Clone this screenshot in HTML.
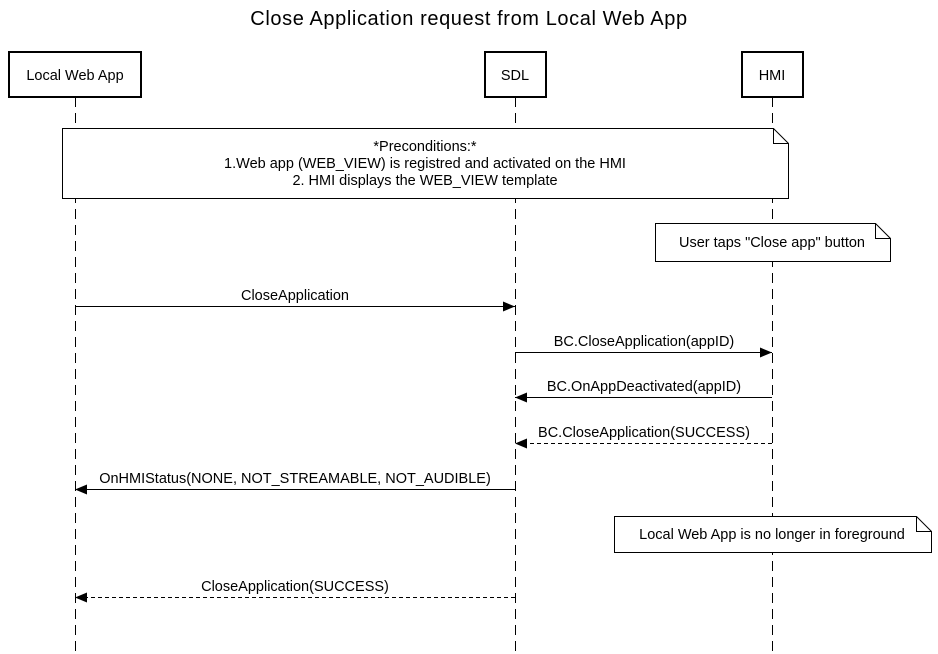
<!DOCTYPE html>
<html><head><meta charset="utf-8"><style>
html,body{margin:0;padding:0;background:#fff;}
svg{display:block;font-family:"Liberation Sans",Arial,sans-serif;}
</style></head><body>
<svg width="938" height="654" viewBox="0 0 938 654" xmlns="http://www.w3.org/2000/svg">
<defs>
<marker id="a" markerWidth="12" markerHeight="10" refX="12" refY="5" orient="auto" markerUnits="userSpaceOnUse">
<path d="M0,0 L12,5 L0,10 Z" fill="#000"/></marker>
</defs>
<text x="469" y="25" font-size="20" letter-spacing="0.6" text-anchor="middle" fill="#000">Close Application request from Local Web App</text>
<g stroke="#000" stroke-width="1" stroke-dasharray="10,6">
<line x1="75.5" y1="97" x2="75.5" y2="654"/>
<line x1="515.5" y1="97" x2="515.5" y2="654"/>
<line x1="772.5" y1="97" x2="772.5" y2="654"/>
</g>
<g fill="#fff" stroke="#000" stroke-width="2">
<rect x="9" y="52" width="132" height="45"/>
<rect x="485" y="52" width="61" height="45"/>
<rect x="742" y="52" width="61" height="45"/>
</g>
<g font-size="14.5" text-anchor="middle" fill="#000">
<text x="75" y="80">Local Web App</text>
<text x="515" y="80">SDL</text>
<text x="772" y="80">HMI</text>
</g>
<g fill="#fff" stroke="#000" stroke-width="1">
<path d="M62.5,128.5 H773.5 L788.5,143.5 V198.5 H62.5 Z"/>
<path d="M773.5,128.5 V143.5 H788.5" fill="none"/>
<path d="M655.5,223.5 H875.5 L890.5,238.5 V261.5 H655.5 Z"/>
<path d="M875.5,223.5 V238.5 H890.5" fill="none"/>
<path d="M614.5,516.5 H916.5 L931.5,531.5 V552.5 H614.5 Z"/>
<path d="M916.5,516.5 V531.5 H931.5" fill="none"/>
</g>
<g font-size="14.5" text-anchor="middle" fill="#000">
<text x="425" y="151">*Preconditions:*</text>
<text x="425" y="168">1.Web app (WEB_VIEW) is registred and activated on the HMI</text>
<text x="425" y="185">2. HMI displays the WEB_VIEW template</text>
<text x="772" y="247">User taps "Close app" button</text>
<text x="772" y="539">Local Web App is no longer in foreground</text>
</g>
<g stroke="#000" stroke-width="1" fill="none">
<line x1="75" y1="306.5" x2="515" y2="306.5" marker-end="url(#a)"/>
<line x1="515" y1="352.5" x2="772" y2="352.5" marker-end="url(#a)"/>
<line x1="772" y1="397.5" x2="515" y2="397.5" marker-end="url(#a)"/>
<line x1="772" y1="443.5" x2="515" y2="443.5" stroke-dasharray="4,3" marker-end="url(#a)"/>
<line x1="515" y1="489.5" x2="75" y2="489.5" marker-end="url(#a)"/>
<line x1="515" y1="597.5" x2="75" y2="597.5" stroke-dasharray="4,3" marker-end="url(#a)"/>
</g>
<g font-size="14.5" text-anchor="middle" fill="#000">
<text x="295" y="300">CloseApplication</text>
<text x="644" y="346">BC.CloseApplication(appID)</text>
<text x="644" y="391">BC.OnAppDeactivated(appID)</text>
<text x="644" y="437">BC.CloseApplication(SUCCESS)</text>
<text x="295" y="483">OnHMIStatus(NONE, NOT_STREAMABLE, NOT_AUDIBLE)</text>
<text x="295" y="591">CloseApplication(SUCCESS)</text>
</g>
</svg>
</body></html>
